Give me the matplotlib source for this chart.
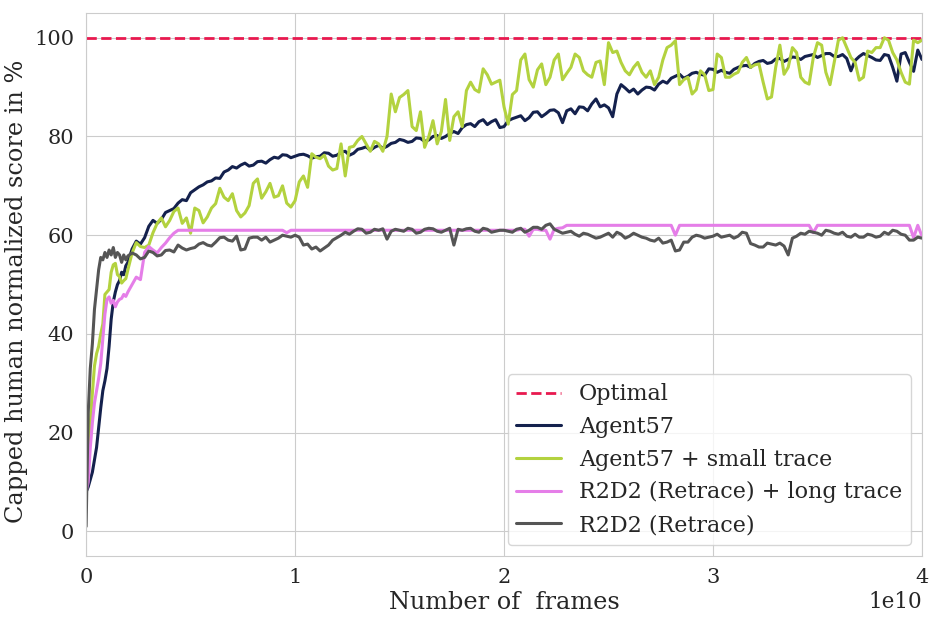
import matplotlib
matplotlib.use('Agg')
import numpy as np
import matplotlib.pyplot as plt
import seaborn as sns

# checkpoints, in units of 1e9 frames
frames_e9 = [
    0.0, 0.1, 0.2, 0.3, 0.4, 0.5, 0.6, 0.7, 0.8, 0.9, 1.0,
    1.1, 1.2, 1.3, 1.4, 1.5, 1.6, 1.7, 1.8, 1.9, 2.0,
    2.2, 2.4, 2.6, 2.8, 3.0, 3.2, 3.4, 3.6, 3.8, 4.0,
    4.2, 4.4, 4.6, 4.8, 5.0, 5.2, 5.4, 5.6, 5.8, 6.0,
    6.2, 6.4, 6.6, 6.8, 7.0, 7.2, 7.4, 7.6, 7.8, 8.0,
    8.2, 8.4, 8.6, 8.8, 9.0, 9.2, 9.4, 9.6, 9.8, 10.0,
    10.2, 10.4, 10.6, 10.8, 11.0, 11.2, 11.4, 11.6, 11.8, 12.0,
    12.2, 12.4, 12.6, 12.8, 13.0, 13.2, 13.4, 13.6, 13.8, 14.0,
    14.2, 14.4, 14.6, 14.8, 15.0, 15.2, 15.4, 15.6, 15.8, 16.0,
    16.2, 16.4, 16.6, 16.8, 17.0, 17.2, 17.4, 17.6, 17.8, 18.0,
    18.2, 18.4, 18.6, 18.8, 19.0, 19.2, 19.4, 19.6, 19.8, 20.0,
    20.2, 20.4, 20.6, 20.8, 21.0, 21.2, 21.4, 21.6, 21.8, 22.0,
    22.2, 22.4, 22.6, 22.8, 23.0, 23.2, 23.4, 23.6, 23.8, 24.0,
    24.2, 24.4, 24.6, 24.8, 25.0, 25.2, 25.4, 25.6, 25.8, 26.0,
    26.2, 26.4, 26.6, 26.8, 27.0, 27.2, 27.4, 27.6, 27.8, 28.0,
    28.2, 28.4, 28.6, 28.8, 29.0, 29.2, 29.4, 29.6, 29.8, 30.0,
    30.2, 30.4, 30.6, 30.8, 31.0, 31.2, 31.4, 31.6, 31.8, 32.0,
    32.2, 32.4, 32.6, 32.8, 33.0, 33.2, 33.4, 33.6, 33.8, 34.0,
    34.2, 34.4, 34.6, 34.8, 35.0, 35.2, 35.4, 35.6, 35.8, 36.0,
    36.2, 36.4, 36.6, 36.8, 37.0, 37.2, 37.4, 37.6, 37.8, 38.0,
    38.2, 38.4, 38.6, 38.8, 39.0, 39.2, 39.4, 39.6, 39.8, 40.0,
]

optimal_score = 100

agent57 = [
    8.0, 9.0, 10.5, 12.0, 14.5, 17.0, 21.0, 25.0, 28.5, 30.5, 33.0,
    37.5, 43.0, 46.5, 48.5, 50.0, 50.8, 52.5, 52.0, 53.8, 54.5,
    57.2, 58.8, 58.2, 59.5, 61.8, 63.0, 62.4, 63.2, 64.6, 65.0,
    65.4, 66.5, 67.2, 67.0, 68.6, 69.2, 69.8, 70.2, 70.8, 71.0,
    71.6, 71.5, 72.8, 73.2, 73.9, 73.6, 74.2, 74.6, 74.0, 74.2,
    74.9, 75.0, 74.6, 75.3, 75.8, 75.6, 76.3, 76.2, 75.7, 76.0,
    76.3, 76.4, 76.1, 75.6, 75.9, 76.0, 76.7, 76.6, 76.0, 76.2,
    76.8, 77.0, 76.2, 76.6, 77.4, 77.6, 77.9, 77.2, 77.8, 78.2,
    77.6, 78.0, 78.6, 78.8, 79.4, 79.2, 78.8, 79.0, 79.7, 79.6,
    79.0, 79.3, 80.0, 80.2, 79.6, 80.0, 80.6, 81.0, 80.6, 81.8,
    82.4, 82.6, 82.0, 83.0, 83.4, 82.4, 83.0, 83.4, 81.8, 82.0,
    83.2, 83.6, 83.9, 84.2, 83.2, 83.8, 84.9, 85.0, 84.0, 84.6,
    85.3, 85.4, 84.8, 82.8, 85.2, 85.6, 84.6, 86.0, 85.9, 85.2,
    86.6, 87.6, 86.0, 86.4, 85.8, 84.0, 88.6, 90.5, 89.8, 89.0,
    89.6, 88.6, 89.4, 90.0, 89.9, 89.4, 90.6, 91.2, 90.8, 91.8,
    92.2, 92.6, 91.8, 92.2, 92.8, 93.0, 92.6, 92.4, 93.7, 93.6,
    93.0, 93.4, 93.0, 92.8, 93.6, 94.0, 94.3, 94.4, 94.0, 94.8,
    95.2, 95.4, 94.8, 95.0, 95.7, 95.8, 95.2, 95.6, 96.1, 96.0,
    95.6, 96.2, 96.4, 96.6, 96.0, 96.4, 96.8, 96.8, 96.2, 96.2,
    96.6, 95.8, 93.3, 95.4, 96.2, 96.8, 96.4, 96.0, 95.5, 95.4,
    96.6, 96.4, 94.0, 91.2, 96.7, 97.0, 95.0, 93.2, 97.5, 95.6,
]

agent57_small_trace = [
    9.0, 15.0, 22.0, 28.0, 33.5, 36.0, 37.5, 40.0, 42.0, 48.0, 48.5,
    49.0, 52.5, 54.0, 54.3, 52.0, 51.6, 50.3, 50.8, 51.2, 53.0,
    56.4, 58.5, 57.7, 57.5, 58.0, 60.5, 62.4, 63.5, 61.7, 63.0,
    64.8, 65.5, 62.4, 63.5, 60.4, 65.5, 65.0, 62.5, 63.7, 65.5,
    66.4, 69.5, 67.7, 67.0, 68.4, 65.0, 63.7, 64.5, 66.0, 70.5,
    71.4, 67.5, 68.8, 70.5, 67.7, 68.0, 70.0, 66.5, 65.7, 67.0,
    70.8, 72.0, 69.7, 76.5, 75.8, 75.5, 76.2, 74.0, 73.2, 73.5,
    78.5, 72.0, 77.8, 78.0, 79.2, 80.0, 78.5, 77.0, 79.0, 78.5,
    77.0, 80.0, 88.6, 85.0, 87.9, 88.5, 89.3, 82.0, 81.2, 85.0,
    77.8, 80.0, 83.2, 78.5, 81.0, 87.5, 79.2, 84.0, 85.0, 82.0,
    89.3, 91.0, 89.5, 89.0, 93.7, 92.5, 90.6, 91.0, 91.4, 86.0,
    82.5, 88.5, 89.3, 95.5, 96.7, 91.5, 90.0, 93.5, 94.7, 90.5,
    92.0, 95.5, 96.7, 91.5, 92.8, 94.0, 96.7, 96.0, 93.3, 92.5,
    92.0, 95.0, 95.3, 90.5, 99.0, 97.0, 97.3, 95.0, 93.3, 92.5,
    94.0, 95.0, 93.0, 92.0, 93.3, 90.5, 92.0, 95.5, 98.0, 98.5,
    99.4, 90.5, 91.5, 92.0, 88.6, 89.5, 93.3, 92.5, 89.3, 89.5,
    96.7, 96.0, 92.0, 92.0, 92.6, 93.0, 95.0, 96.0, 94.0, 94.5,
    94.7, 91.0, 87.6, 88.0, 94.0, 98.5, 92.6, 94.0, 98.0, 97.0,
    92.0, 91.0, 90.6, 96.0, 99.0, 98.5, 93.0, 90.5, 95.0, 99.5,
    100.0, 98.0, 96.0, 95.0, 91.4, 92.0, 97.3, 97.0, 98.0, 98.0,
    100.0, 99.5, 97.0, 95.5, 93.0, 91.0, 90.6, 99.5, 99.0, 99.5,
]

r2d2_long_trace = [
    8.0, 10.0, 17.0, 22.0, 26.0, 28.5, 31.0, 34.0, 39.0, 44.0, 47.0,
    47.5, 46.2, 46.8, 45.5, 46.5, 47.0, 47.2, 48.0, 47.6, 48.5,
    50.0, 51.5, 51.0, 56.5, 57.7, 57.0, 56.4, 57.5, 58.4, 59.5,
    60.4, 61.0, 61.0, 61.0, 61.0, 61.0, 61.0, 61.0, 61.0, 61.0,
    61.0, 61.0, 61.0, 61.0, 61.0, 61.0, 61.0, 61.0, 61.0, 61.0,
    61.0, 61.0, 61.0, 61.0, 61.0, 61.0, 61.0, 60.5, 61.0, 61.0,
    61.0, 61.0, 61.0, 61.0, 61.0, 61.0, 61.0, 61.0, 61.0, 61.0,
    61.0, 61.0, 61.0, 61.0, 61.0, 61.0, 61.0, 61.0, 61.0, 61.0,
    61.0, 61.0, 61.0, 61.0, 61.0, 61.0, 61.0, 61.0, 61.0, 61.0,
    61.0, 61.0, 61.0, 61.0, 61.0, 61.0, 61.0, 61.0, 61.0, 61.0,
    61.0, 61.0, 61.0, 61.0, 61.0, 61.0, 61.0, 61.0, 61.0, 61.0,
    61.0, 61.0, 61.0, 61.2, 61.2, 59.8, 61.2, 61.2, 61.0, 61.0,
    59.2, 61.2, 61.4, 61.5, 62.0, 62.0, 62.0, 62.0, 62.0, 62.0,
    62.0, 62.0, 62.0, 62.0, 62.0, 62.0, 62.0, 62.0, 62.0, 62.0,
    62.0, 62.0, 62.0, 62.0, 62.0, 62.0, 62.0, 62.0, 62.0, 62.0,
    60.0, 62.0, 62.0, 62.0, 62.0, 62.0, 62.0, 62.0, 62.0, 62.0,
    62.0, 62.0, 62.0, 62.0, 62.0, 62.0, 62.0, 62.0, 62.0, 62.0,
    62.0, 62.0, 62.0, 62.0, 62.0, 62.0, 62.0, 62.0, 62.0, 62.0,
    62.0, 62.0, 62.0, 60.5, 62.0, 62.0, 62.0, 62.0, 62.0, 62.0,
    62.0, 62.0, 62.0, 62.0, 62.0, 62.0, 62.0, 62.0, 62.0, 62.0,
    62.0, 62.0, 62.0, 62.0, 62.0, 62.0, 62.0, 59.5, 62.0, 59.8,
]

r2d2 = [
    1.0, 24.0, 33.0, 38.0, 45.0, 49.0, 53.0, 55.5, 55.0, 56.5, 55.5,
    57.0, 56.0, 57.5, 55.5, 56.5, 56.0, 54.5, 56.0, 55.0, 55.8,
    56.4, 56.0, 55.2, 55.5, 56.8, 56.5, 55.8, 56.0, 56.9, 57.0,
    56.6, 58.0, 57.4, 57.0, 57.3, 57.5, 58.2, 58.5, 58.0, 57.8,
    58.6, 59.5, 59.6, 59.0, 58.8, 59.8, 57.0, 57.2, 59.4, 59.6,
    59.6, 59.0, 59.6, 58.6, 59.0, 59.4, 60.0, 59.8, 59.6, 60.0,
    59.6, 58.0, 58.2, 57.2, 57.6, 56.8, 57.4, 58.0, 59.0, 59.5,
    60.0, 60.6, 60.2, 60.8, 61.3, 61.2, 60.4, 60.6, 61.2, 61.0,
    61.3, 59.2, 60.8, 61.2, 61.0, 60.8, 61.4, 61.2, 60.4, 60.6,
    61.2, 61.4, 61.3, 60.8, 60.6, 61.0, 61.4, 58.0, 61.2, 61.0,
    61.3, 61.4, 60.8, 60.6, 61.4, 61.2, 60.6, 60.8, 61.0, 61.0,
    60.8, 60.6, 61.2, 61.4, 60.6, 61.0, 61.6, 61.6, 61.2, 62.0,
    62.3, 61.2, 60.8, 60.4, 60.6, 60.8, 60.2, 59.8, 60.4, 60.2,
    59.8, 59.4, 59.6, 60.0, 60.4, 59.6, 60.6, 60.2, 59.4, 59.8,
    60.4, 60.0, 59.6, 59.4, 59.0, 58.8, 59.4, 58.4, 58.6, 59.0,
    56.8, 57.0, 58.6, 58.6, 59.6, 60.0, 59.8, 59.4, 59.6, 59.8,
    60.2, 59.6, 59.8, 60.0, 59.4, 59.8, 60.6, 60.4, 58.3, 58.0,
    57.6, 57.6, 58.4, 58.2, 58.0, 58.4, 57.8, 56.0, 59.4, 59.8,
    60.4, 60.2, 60.8, 60.6, 60.4, 60.0, 61.0, 60.8, 60.4, 60.2,
    60.6, 59.8, 59.6, 60.2, 59.6, 59.6, 60.2, 60.0, 59.6, 59.8,
    60.6, 60.2, 61.0, 60.8, 60.2, 60.0, 59.0, 59.0, 59.6, 59.4,
]

series = [
    ('Agent57', agent57, '#14214d'),
    ('Agent57 + small trace', agent57_small_trace, '#b3d23f'),
    ('R2D2 (Retrace) + long trace', r2d2_long_trace, '#e57ee8'),
    ('R2D2 (Retrace)', r2d2, '#555555'),
]


def main():
    sns.set_style('whitegrid')
    plt.rcParams['font.family'] = ['DejaVu Serif']

    fig, ax = plt.subplots(figsize=(9.36, 6.22), dpi=100)
    fig.subplots_adjust(left=0.092, right=0.985, bottom=0.106, top=0.979)

    frames = np.array(frames_e9) * 1e9

    ax.axhline(optimal_score, color='#e8194f', linestyle='--', linewidth=2, label='Optimal')
    for name, values, color in series:
        ax.plot(frames, values, color=color, linewidth=2.2, label=name)

    ax.set_xlim(0, 4e10)
    ax.set_ylim(-5, 105)
    ax.set_yticks([0, 20, 40, 60, 80, 100])
    ax.set_xticks([0, 1e10, 2e10, 3e10, 4e10])
    ax.set_xlabel('Number of  frames', fontsize=17.3, labelpad=3)
    ax.set_ylabel('Capped human normalized score in %', fontsize=17.3, labelpad=6)
    # label sits a little below the axes centre in the original
    ax.yaxis.set_label_coords(-0.07, 0.487)
    ax.tick_params(labelsize=15, colors='#262626', pad=5)
    ax.xaxis.get_offset_text().set_fontsize(15.5)

    ax.legend(loc='lower right', fontsize=16, handlelength=2.0, frameon=True,
              borderaxespad=0.5, labelspacing=0.48)

    fig.savefig('out.png', dpi=100)
    plt.close(fig)


if __name__ == '__main__':
    main()
